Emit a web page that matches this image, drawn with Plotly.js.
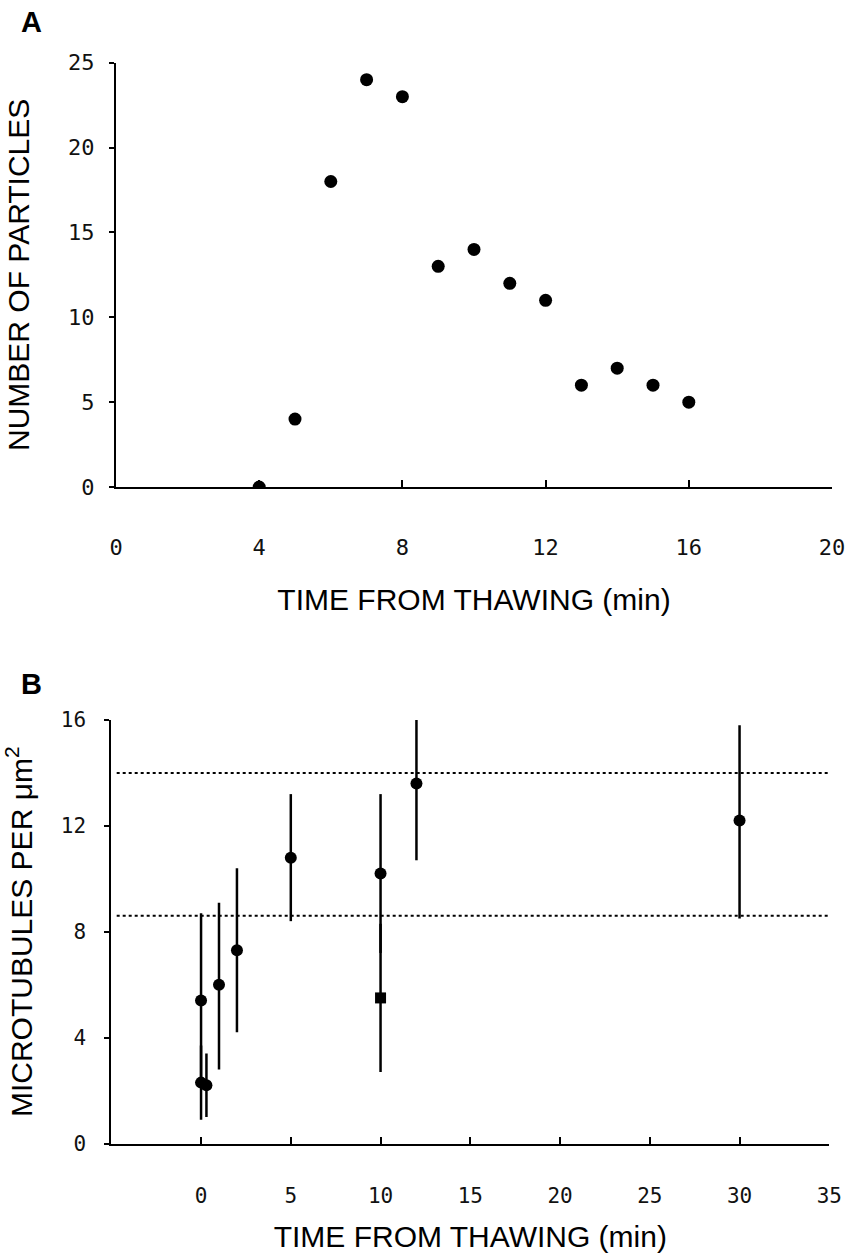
<!DOCTYPE html>
<html>
<head>
<meta charset="utf-8">
<script src="https://cdn.plot.ly/plotly-3.0.1.min.js"></script>
<style>html,body{margin:0;padding:0;background:#fff;}#chart{width:854px;height:1253px;}</style>
</head>
<body>
<div id="chart"></div>
<script>
// Panel A: number of particles vs time from thawing
const timeA = [4, 5, 6, 7, 8, 9, 10, 11, 12, 13, 14, 15, 16];
const particlesA = [0, 4, 18, 24, 23, 13, 14, 12, 11, 6, 7, 6, 5];
const ticksAx = [0, 4, 8, 12, 16, 20];
const ticksAy = [0, 5, 10, 15, 20, 25];

// Panel B: microtubules per um^2 (circles) with error bars
const timeB = [0, 0, 0.3, 1, 2, 5, 10, 12, 30];
const mtB = [5.4, 2.3, 2.2, 6.0, 7.3, 10.8, 10.2, 13.6, 12.2];
const mtBPlus = [3.3, 1.4, 1.2, 3.1, 3.1, 2.4, 3.0, 2.4, 3.6];
const mtBMinus = [3.3, 1.4, 1.2, 3.2, 3.1, 2.4, 3.0, 2.9, 3.7];
// Panel B: square marker
const timeSq = [10];
const mtSq = [5.5];
const mtSqPlus = [2.8];
const mtSqMinus = [2.8];
// Panel B: dotted reference levels
const refLevels = [14, 8.6];
const refSpan = [-4.7, 35];
const ticksBx = [0, 5, 10, 15, 20, 25, 30, 35];
const ticksBy = [0, 4, 8, 12, 16];

const W = 854, H = 1253;
const px = v => v / W;
const py = v => 1 - v / H;

const tickFont = {family: 'DejaVu Sans Mono', size: 22, color: '#111'};
const titleFont = {family: 'Liberation Sans, Arial, sans-serif', size: 30, color: '#000'};

const traces = [
  {x: timeA, y: particlesA, xaxis: 'x', yaxis: 'y', mode: 'markers', type: 'scatter',
   marker: {color: '#000', size: 13}, hoverinfo: 'x+y'},
  {x: timeB, y: mtB, xaxis: 'x2', yaxis: 'y2', mode: 'markers', type: 'scatter',
   marker: {color: '#000', size: 12},
   error_y: {type: 'data', symmetric: false, array: mtBPlus, arrayminus: mtBMinus,
             color: '#000', thickness: 2.5, width: 0}},
  {x: timeSq, y: mtSq, xaxis: 'x2', yaxis: 'y2', mode: 'markers', type: 'scatter',
   marker: {color: '#000', size: 11, symbol: 'square'},
   error_y: {type: 'data', symmetric: false, array: mtSqPlus, arrayminus: mtSqMinus,
             color: '#000', thickness: 2.5, width: 0}}
];
refLevels.forEach(lv => {
  traces.push({x: refSpan, y: refSpan.map(() => lv), xaxis: 'x2', yaxis: 'y2',
    mode: 'lines', type: 'scatter', line: {color: '#000', width: 2, dash: 'dot'}, hoverinfo: 'skip'});
});

const axisCommon = {
  showgrid: false, zeroline: false, showline: true, linecolor: '#000', linewidth: 2,
  tickcolor: '#000', tickwidth: 2, tickfont: tickFont, automargin: false, fixedrange: true
};

const layout = {
  width: W, height: H, showlegend: false,
  paper_bgcolor: '#fff', plot_bgcolor: '#fff',
  margin: {l: 0, r: 0, t: 0, b: 0},
  xaxis: Object.assign({}, axisCommon, {
    domain: [px(116), px(832)], anchor: 'y', range: [0, 20],
    tickmode: 'array', tickvals: ticksAx, ticks: 'inside', ticklen: 7,
    ticklabelstandoff: 40,
    title: {text: 'TIME FROM THAWING (min)', font: titleFont, standoff: 30}
  }),
  yaxis: Object.assign({}, axisCommon, {
    domain: [py(487), py(62.7)], anchor: 'x', range: [0, 25],
    tickmode: 'array', tickvals: ticksAy, ticks: 'outside', ticklen: 5,
    ticklabelstandoff: 10,
    title: {text: 'NUMBER OF PARTICLES', font: titleFont, standoff: 30}
  }),
  xaxis2: Object.assign({}, axisCommon, {
    domain: [px(111.3), px(829.3)], anchor: 'y2', range: [-5, 35],
    tickmode: 'array', tickvals: ticksBx, ticks: 'inside', ticklen: 7,
    ticklabelstandoff: 32, tickfont: Object.assign({}, tickFont, {size: 21}),
    title: {text: 'TIME FROM THAWING (min)', font: titleFont, standoff: 20}
  }),
  yaxis2: Object.assign({}, axisCommon, {
    domain: [py(1143.5), py(720)], anchor: 'x2', range: [0, 16],
    tickmode: 'array', tickvals: ticksBy, ticks: 'outside', ticklen: 5,
    ticklabelstandoff: 14, tickfont: Object.assign({}, tickFont, {size: 21}),
    title: {text: 'MICROTUBULES PER μm<sup>2</sup>', font: titleFont, standoff: 28}
  }),
  annotations: [
    {text: '<b>A</b>', xref: 'paper', yref: 'paper', x: px(19), y: py(21.5),
     xanchor: 'left', yanchor: 'middle', showarrow: false,
     font: {family: 'Liberation Sans, Arial, sans-serif', size: 29, color: '#000'}},
    {text: '<b>B</b>', xref: 'paper', yref: 'paper', x: px(19), y: py(684),
     xanchor: 'left', yanchor: 'middle', showarrow: false,
     font: {family: 'Liberation Sans, Arial, sans-serif', size: 29, color: '#000'}}
  ]
};

Plotly.newPlot('chart', traces, layout, {displayModeBar: false, staticPlot: true});
</script>
</body>
</html>
